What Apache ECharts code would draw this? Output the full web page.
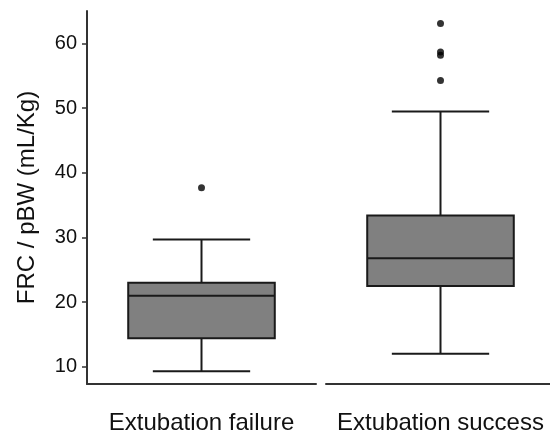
<!DOCTYPE html>
<html>
<head>
<meta charset="utf-8">
<script src="https://cdn.jsdelivr.net/npm/echarts@6/dist/echarts.min.js"></script>
<style>html,body{margin:0;padding:0;background:#fff;}#c{width:550px;height:433px;}</style>
</head>
<body>
<div id="c"></div>
<script>
// Data
var categories = ['Extubation failure', 'Extubation success'];
// [min whisker, Q1, median, Q3, max whisker]
var failureBox = [9.3, 14.4, 21.0, 23.0, 29.7];
var successBox = [12.0, 22.5, 26.8, 33.4, 49.5];
var failureOutliers = [37.7];
var successOutliers = [63.1, 58.7, 58.2, 54.3];
var yTicks = [10, 20, 30, 40, 50, 60];

var FONT = '"Liberation Sans", Arial, sans-serif';
var STROKE = '#1a1a1a';
var FILL = '#808080';
var YMIN = 7.33, YMAX = 65.04;

function renderBox(params, api) {
  var x = api.value(0);
  var lo = api.coord([x, api.value(1)]);
  var q1 = api.coord([x, api.value(2)]);
  var md = api.coord([x, api.value(3)]);
  var q3 = api.coord([x, api.value(4)]);
  var hi = api.coord([x, api.value(5)]);
  var band = api.size([1, 0])[0];
  var bw = band * 0.64, cw = band * 0.425;
  var cx = lo[0];
  var ls = {stroke: STROKE, lineWidth: 2};
  return {type: 'group', children: [
    {type: 'line', shape: {x1: cx, y1: hi[1], x2: cx, y2: q3[1]}, style: ls},
    {type: 'line', shape: {x1: cx, y1: q1[1], x2: cx, y2: lo[1]}, style: ls},
    {type: 'line', shape: {x1: cx - cw / 2, y1: hi[1], x2: cx + cw / 2, y2: hi[1]}, style: ls},
    {type: 'line', shape: {x1: cx - cw / 2, y1: lo[1], x2: cx + cw / 2, y2: lo[1]}, style: ls},
    {type: 'rect', shape: {x: cx - bw / 2, y: q3[1], width: bw, height: q1[1] - q3[1]}, style: {fill: FILL, stroke: STROKE, lineWidth: 2}},
    {type: 'line', shape: {x1: cx - bw / 2, y1: md[1], x2: cx + bw / 2, y2: md[1]}, style: ls}
  ]};
}

function xAxisCfg(gi, cat) {
  return {
    type: 'category', gridIndex: gi, data: [cat],
    axisLine: {show: true, lineStyle: {color: '#333', width: 2}},
    axisTick: {show: false},
    axisLabel: {fontSize: 24, color: '#111', fontFamily: FONT, margin: 27}
  };
}

var chart = echarts.init(document.getElementById('c'), null, {renderer: 'canvas'});
chart.setOption({
  backgroundColor: '#fff',
  animation: false,
  grid: [
    {left: 87, top: 11, width: 229, bottom: 49, outerBoundsMode: 'none', containLabel: false},
    {left: 326, top: 11, width: 229, bottom: 49, outerBoundsMode: 'none', containLabel: false}
  ],
  xAxis: [xAxisCfg(0, categories[0]), xAxisCfg(1, categories[1])],
  yAxis: [
    {
      type: 'value', gridIndex: 0, min: YMIN, max: YMAX,
      name: 'FRC / pBW (mL/Kg)', nameLocation: 'middle', nameGap: 48,
      nameTextStyle: {fontSize: 24, color: '#111', fontFamily: FONT},
      axisLine: {show: true, lineStyle: {color: '#333', width: 2}},
      axisTick: {show: true, length: 5, lineStyle: {color: '#333', width: 1.5}, customValues: yTicks},
      axisLabel: {fontSize: 20, color: '#111', fontFamily: FONT, margin: 10, customValues: yTicks},
      splitLine: {show: false}
    },
    {
      type: 'value', gridIndex: 1, min: YMIN, max: YMAX, show: false,
      splitLine: {show: false}
    }
  ],
  series: [
    {type: 'custom', xAxisIndex: 0, yAxisIndex: 0, renderItem: renderBox,
     encode: {x: 0, y: [1, 2, 3, 4, 5]}, data: [[0].concat(failureBox)]},
    {type: 'custom', xAxisIndex: 1, yAxisIndex: 1, renderItem: renderBox,
     encode: {x: 0, y: [1, 2, 3, 4, 5]}, data: [[0].concat(successBox)]},
    {type: 'scatter', xAxisIndex: 0, yAxisIndex: 0, symbolSize: 7,
     itemStyle: {color: '#000'}, data: failureOutliers.map(function (v) { return [0, v]; })},
    {type: 'scatter', xAxisIndex: 1, yAxisIndex: 1, symbolSize: 7,
     itemStyle: {color: '#000'}, data: successOutliers.map(function (v) { return [0, v]; })}
  ]
});
</script>
</body>
</html>
